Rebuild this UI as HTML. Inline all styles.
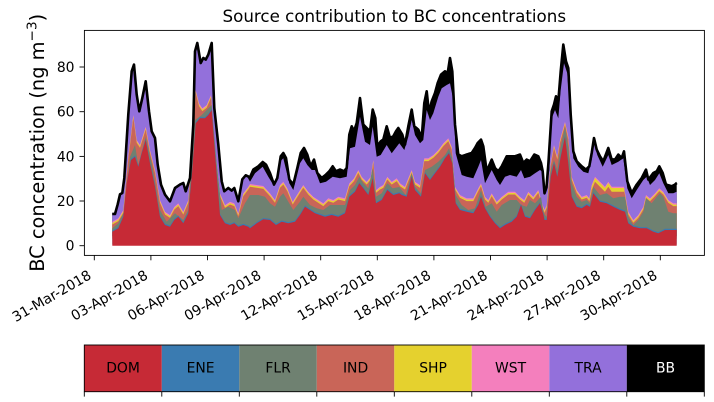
<!DOCTYPE html>
<html><head><meta charset="utf-8"><style>
html,body{margin:0;padding:0;background:#fff;}
svg{display:block;font-family:"DejaVu Sans","Liberation Sans",sans-serif;}
</style></head><body>
<svg width="714" height="402" viewBox="0 0 714 402" xmlns="http://www.w3.org/2000/svg">
<rect x="0" y="0" width="714" height="402" fill="#fff"/>
<text x="394.3" y="22" font-size="16.7" text-anchor="middle" fill="#000">Source contribution to BC concentrations</text>

<!-- BB -->
<polygon fill="#000" points="112.3,236 112.3,212.7 115,212.7 117.7,203 120,193 122.3,191.7 124.3,176.7 128.3,113 131.7,70 134,63.3 136.7,93.3 139.3,110 142.3,96.7 145.7,80 149,110 151.7,130 155,136.7 157.7,163.3 161,183.3 165,193.3 170,200 175,186.7 180,183.3 183.3,181.7 185.7,190 190,176.7 193.3,123.3 195,50 197.3,41.7 200.7,61.7 203.3,56.7 205.7,58.3 208.3,53.3 211.7,41.7 214.3,106.7 218.3,143.3 221.7,180 224.3,190 228.3,186.7 231.7,189.3 234.3,186.7 238.3,200 242.3,178 245.7,174 250,176 253.3,168.3 258.3,165 262.7,160.7 266,163.3 270,171.7 274,183.3 277.3,176.7 280.7,155 283.3,151.7 286,156.7 289.3,178.3 293.3,183.3 297.3,166.7 300.7,151.7 304,146.7 307.3,153.3 310.7,165 314,158.3 317.3,171.7 321.7,176.7 326,173.3 329.3,170 332.7,165 336,170 340,168.3 344,170 346.7,166.7 349.3,133.3 351.7,125 354,130 356.7,121.7 360,96.7 363.3,123.3 366.7,126.7 370,130 372.7,108.3 375.3,116.7 377.3,145 380.7,140 383.3,138.3 386.7,125 390,136.7 393.3,135 396,130 398.3,126.7 402.3,133.3 405,143.3 408.3,125 411.7,108.3 414.3,125 418.3,128.3 421.7,136.7 424.3,101.7 426.7,90 429,111.7 431.7,100 435,91.7 437.7,81.7 441,73.3 445,70 447.7,71.7 450,56.7 452.3,70 455,123.3 458.3,153.3 461.7,155 466.7,153.3 471.7,151.7 475,146.7 477.7,141.7 481,138.3 483.3,145 486.7,170 491.7,158.3 495,166.7 498.3,170 501.7,165 506.7,155 510,155 515,155 520,153.3 523.3,161.7 526.7,158.3 530,160 534.3,153.3 538.3,155 541,161.7 542.7,170 544.5,192 546.5,186 548.3,163.3 551.7,110 554,103.3 556,95 558.3,100 560.7,70 563.3,43.3 566,60 568.3,66.7 570.7,113.3 573.3,150 576.7,160 581.7,165 586,168.3 589.3,165 591.7,151.7 594,136.7 596.7,148.3 600,155 603.3,160 608.3,146.7 611.7,158.3 615,158.3 618.3,153.3 621.7,156.7 624,150 627.3,180 631.7,191.7 636.7,183.3 641.7,176.7 646,168.3 648.3,178.3 653.3,171.7 656.7,170 659.3,165 662.7,171.7 666,183.3 671.7,185 675,183.3 676.7,181.7 676.7,236"/>

<!-- TRA -->
<polygon fill="#9370db" points="112.3,236 112.3,212.7 115,212.7 117.7,203 120,193 122.3,191.7 124.3,176.7 128.3,113 131.7,70 134,63.3 136.7,93.3 139.3,110 142.3,96.7 145.7,80 149,110 151.7,130 155,136.7 157.7,163.3 161,183.3 165,193.3 170,200 175,186.7 180,183.3 183.3,181.7 185.7,190 190,176.7 193.3,123.3 195,50 197.3,41.7 200.7,61.7 203.3,56.7 205.7,58.3 208.3,53.3 211.7,41.7 214.3,106.7 218.3,143.3 221.7,180 224.3,190 228.3,186.7 231.7,189.3 234.3,186.7 238.3,200 242.3,178 245.7,174 250,181.7 255,173.3 262.7,166.7 268.3,176.7 274,186 280,161.7 283.3,158.3 289.3,183.3 293.3,190 300,163.3 303.3,158.3 307.3,165 311.7,170 315,170 320,183.3 326,181.7 332.7,176.7 340,178.3 346.7,176.7 350,148.3 355,146.7 360,116.7 365,141.7 370,145 372.7,126.7 376.7,156.7 380.7,155 386.7,145 391.7,153.3 399.3,143.3 404.3,150 408.3,136.7 411.7,120 415,135 420,143.3 423.3,140 426.7,110 430,120 433.3,113.3 438.3,96.7 441.7,88.3 446.7,85 450,83.3 453.3,100 455.7,153.3 461.7,175 466.7,176.7 473.3,178.3 478.3,166.7 481,160 485,183.3 491.7,170 496.7,180 500,185 505,176.7 510,175 516.7,176.7 521,170 524.3,178.3 530,176.7 535,173.3 540,170 542.7,172 544.7,195 546.5,190 549.3,170 551.7,118.3 555,110 558.3,118.3 560.7,90 564,63.3 567.3,73.3 570.7,123.3 573.3,158.3 578.3,166.7 583.3,171.7 588.3,173.3 591.7,160 594,143.3 597.3,155 602.7,166.7 608.3,155 611.7,165 618.3,161.7 623.3,158.3 627.3,188.3 631.7,198.3 636.7,190 643.3,180 646.7,176.7 650,185 655,180 659.3,173.3 663.3,183.3 668.3,193.3 673.3,193.3 676.7,191.7 676.7,236"/>

<!-- WST -->
<polygon fill="#f47fbd" points="112.3,236 112.3,221.7 118.3,218.3 123.3,210 128.3,156.7 133.3,115 136.7,140 140,145 145.7,126.7 150,150 155,170 160,200 165,211.7 170,215 174.3,206.7 178.3,203.3 183.3,211.7 188.3,200 192.3,150 195.7,90 199,103.3 202.3,108.3 206.7,105 211,95 215,146.7 220,193.3 225,205 230,201.7 234.3,203.3 238.3,213.3 243.3,193.3 248.3,186.7 250,184 256.7,185 263.3,186 270,193.3 275,200 280,185 283.3,181.7 287.3,188.3 292.7,201.7 300,190 303.3,185 308.3,191.7 313.3,196.7 318.3,200 323.3,203.3 328.3,198.3 333.3,200 338.3,196.7 345,198.3 349.3,183.3 354,178.3 358.3,170 361.7,176.7 366.7,181.7 370.7,176.7 373.3,160 376,190 380,186.7 383.3,185 387.3,176.7 391.7,181.7 396.7,178.3 400,183.3 405,186.7 408.3,178.3 411.7,170 415,181.7 420,185 424.3,158.3 428.3,158.3 433.3,155 438.3,150 443.3,143.3 448.3,138.3 451.7,146.7 455,186.7 460,195 466.7,198.3 473.3,198.3 478.3,188.3 481,183.3 485,196.7 488.3,200 491.7,193.3 496.7,201.7 501.7,196.7 508.3,191.7 515,191.7 520,196.7 524.3,200 528.3,191.7 533.3,196.7 538.3,190 542.7,205 544.5,210 546.7,205 550.7,163.3 554,145 557.3,156.7 560,140 565,121.7 568.3,136.7 571.7,176.7 576.7,190 581.7,196.7 586.7,195 589.3,198.3 591.7,185 595,176.7 600,181.7 605,186.7 608.3,181.7 611.7,186.7 616.7,186.7 621.7,186.7 624,186.7 628.3,211.7 633.3,220 638.3,215 643.3,206.7 646,195 650,198.3 655,193.3 659.3,188.3 663.3,191.7 668.3,200 673.3,203.3 676.7,203.3 676.7,236"/>
<!-- SHP -->
<g transform="translate(0,1.3)"><polygon fill="#e5d12e" points="112.3,236 112.3,221.7 118.3,218.3 123.3,210 128.3,156.7 133.3,115 136.7,140 140,145 145.7,126.7 150,150 155,170 160,200 165,211.7 170,215 174.3,206.7 178.3,203.3 183.3,211.7 188.3,200 192.3,150 195.7,90 199,103.3 202.3,108.3 206.7,105 211,95 215,146.7 220,193.3 225,205 230,201.7 234.3,203.3 238.3,213.3 243.3,193.3 248.3,186.7 250,184 256.7,185 263.3,186 270,193.3 275,200 280,185 283.3,181.7 287.3,188.3 292.7,201.7 300,190 303.3,185 308.3,191.7 313.3,196.7 318.3,200 323.3,203.3 328.3,198.3 333.3,200 338.3,196.7 345,198.3 349.3,183.3 354,178.3 358.3,170 361.7,176.7 366.7,181.7 370.7,176.7 373.3,160 376,190 380,186.7 383.3,185 387.3,176.7 391.7,181.7 396.7,178.3 400,183.3 405,186.7 408.3,178.3 411.7,170 415,181.7 420,185 424.3,158.3 428.3,158.3 433.3,155 438.3,150 443.3,143.3 448.3,138.3 451.7,146.7 455,186.7 460,195 466.7,198.3 473.3,198.3 478.3,188.3 481,183.3 485,196.7 488.3,200 491.7,193.3 496.7,201.7 501.7,196.7 508.3,191.7 515,191.7 520,196.7 524.3,200 528.3,191.7 533.3,196.7 538.3,190 542.7,205 544.5,210 546.7,205 550.7,163.3 554,145 557.3,156.7 560,140 565,121.7 568.3,136.7 571.7,176.7 576.7,190 581.7,196.7 586.7,195 589.3,198.3 591.7,185 595,176.7 600,181.7 605,186.7 608.3,181.7 611.7,186.7 616.7,186.7 621.7,186.7 624,186.7 628.3,211.7 633.3,220 638.3,215 643.3,206.7 646,195 650,198.3 655,193.3 659.3,188.3 663.3,191.7 668.3,200 673.3,203.3 676.7,203.3 676.7,236"/></g>
<!-- IND -->
<g transform="translate(0,2.8)"><polygon fill="#c96558" points="112.3,236 112.3,221.7 118.3,218.3 123.3,210 128.3,156.7 133.3,115 136.7,140 140,145 145.7,126.7 150,150 155,170 160,200 165,211.7 170,215 174.3,206.7 178.3,203.3 183.3,211.7 188.3,200 192.3,150 195.7,90 199,103.3 202.3,108.3 206.7,105 211,95 215,146.7 220,193.3 225,205 230,201.7 234.3,203.3 238.3,213.3 243.3,193.3 248.3,186.7 250,184 256.7,185 263.3,186 270,193.3 275,200 280,185 283.3,181.7 287.3,188.3 292.7,201.7 300,190 303.3,185 308.3,191.7 313.3,196.7 318.3,200 323.3,203.3 328.3,198.3 333.3,200 338.3,196.7 345,198.3 349.3,183.3 354,178.3 358.3,170 361.7,176.7 366.7,181.7 370.7,176.7 373.3,160 376,190 380,186.7 383.3,185 387.3,176.7 391.7,181.7 396.7,178.3 400,183.3 405,186.7 408.3,178.3 411.7,170 415,181.7 420,185 424.3,158.3 428.3,158.3 433.3,155 438.3,150 443.3,143.3 448.3,138.3 451.7,146.7 455,186.7 460,195 466.7,198.3 473.3,198.3 478.3,188.3 481,183.3 485,196.7 488.3,200 491.7,193.3 496.7,201.7 501.7,196.7 508.3,191.7 515,191.7 520,196.7 524.3,200 528.3,191.7 533.3,196.7 538.3,190 542.7,205 544.5,210 546.7,205 550.7,163.3 554,145 557.3,156.7 560,140 565,121.7 568.3,136.7 571.7,176.7 576.7,190 581.7,196.7 586.7,195 589.3,198.3 591.7,185 595,176.7 600,181.7 605,186.7 608.3,181.7 611.7,186.7 616.7,186.7 621.7,186.7 624,186.7 628.3,211.7 633.3,220 638.3,215 643.3,206.7 646,195 650,198.3 655,193.3 659.3,188.3 663.3,191.7 668.3,200 673.3,203.3 676.7,203.3 676.7,236"/></g>
<!-- thicker SHP segment -->
<polygon fill="#e5d12e" points="589.3,200.8 591.7,187.5 595,179.2 600,184.2 605,189.2 608.3,184.2 611.7,189.2 616.7,189.2 621.7,189.2 624,189.2 624,191.7 621.7,191.7 616.7,191.7 611.7,191.7 608.3,186.7 605,191.7 600,186.7 595,181.7 591.7,190 589.3,202"/>

<!-- FLR -->
<polygon fill="#6f8171" points="112.3,236 112.3,228.3 118.3,223.3 125,210 130,156.7 135,145 138.3,165 145.7,136.7 151.7,163.3 160,210 166.7,221.7 175,213.3 183.3,220 188.3,210 195,120 201.7,115 211.7,105 216.7,163.3 221.7,210 228.3,206.7 235,210 238.3,218.3 245,203.3 248.3,198 250,195 258.3,195 265,196.7 270,203.3 275,206.7 280,196.7 283.3,193.3 287.3,200 293.3,210 300,201.7 303.3,196.7 310,205 316.7,208.3 323.3,210 330,205 336.7,205 345,205 350,190 355,185 359.3,176.7 363.3,183.3 368.3,188.3 372.7,168.3 376,196.7 381.7,193.3 387.3,183.3 392.7,188.3 399.3,187 405.7,195 411.7,173.3 415,186.7 421,193.3 425,170 431.7,166.7 438.3,161.7 445,155 449,148.3 452.3,158.3 455.7,195 461.7,205 468.3,210 475,208.3 481,190 485.7,206.7 491.7,203.3 496.7,211.7 501.7,205 510,200 516.7,200 521,205 526.7,206.7 530,200 535,203.3 541,196.7 543.5,212 545,215 546.7,216.7 550.7,170 554,160 557.3,170 560,150 565,126.7 568.3,146.7 571.7,183.3 576.7,196.7 581.7,201.7 586.7,200 590,203.3 593.3,186.7 600,195 606.7,193.3 613.3,198.3 620,196.7 625,196.7 628.3,216.7 633.3,225 638.3,220 643.3,211.7 646,198.3 651.7,203.3 656.7,196.7 660,193.3 663.3,196.7 668.3,211.7 673.3,213.3 676.7,213.3 676.7,236"/>

<!-- ENE (thin) -->
<g transform="translate(0,-1.2)"><polygon fill="#3a7bb1" points="112.3,245.7 112.3,231.7 118.3,228.3 123.3,216.7 126.7,183.3 131,160 135,156.7 138.3,166.7 141.7,153.3 145.7,140 150,163.3 155,186.7 160,216.7 165,225 170,226.7 174.3,220 178.3,216.7 183.3,223.3 188.3,213.3 192.3,170 195.7,123.3 200,118.3 205,118.3 208.3,115 211.7,110 215,153.3 220,215 225,223.3 230,225 234.3,223.3 238.3,226.7 243.3,225 248.3,226.7 250,228.3 256.7,223.3 263.3,219.3 270,220 276,225 281.7,221.7 288.3,223.3 295,221.7 300,215 305,206.7 310,210 315,213.3 320,215 325,216.7 331.7,215 338.3,216.7 345,213.3 349.3,196.7 355,191.7 359.3,183.3 363.3,188.3 368.3,195 372.7,178.3 376,203.3 381.7,200 387.3,190 393.3,195 399.3,193.3 401.7,195 406.7,196.7 411.7,176.7 415,190 421,196.7 425,173.3 430,180 435,173.3 440,166.7 445,158.3 449,153.3 452.3,163.3 455.7,203.3 460,210 466.7,211.7 473.3,213.3 478.3,205 481,196.7 485,208.3 490,216.7 495,223.3 500,228.3 505,225 511.7,221.7 516.7,216.7 521,205 525,216.7 530,218.3 535,210 540,203.3 543.5,215 544.5,220 546.7,220 550.7,176.7 554,163.3 557.3,176.7 560.7,156.7 565,136.7 568.3,163.3 571.7,196.7 576.7,206.7 581.7,208.3 586.7,205 590,206.7 593.3,193.3 600,201.7 606.7,203.3 613.3,206.7 620,210 625,211.7 628.3,223.3 633.3,226.7 640,228.3 646.7,228.3 653.3,231.7 658.3,233.3 665,230 671.7,230 676.7,230 676.7,245.7"/></g>

<!-- DOM -->
<polygon fill="#c62a36" points="112.3,245.7 112.3,231.7 118.3,228.3 123.3,216.7 126.7,183.3 131,160 135,156.7 138.3,166.7 141.7,153.3 145.7,140 150,163.3 155,186.7 160,216.7 165,225 170,226.7 174.3,220 178.3,216.7 183.3,223.3 188.3,213.3 192.3,170 195.7,123.3 200,118.3 205,118.3 208.3,115 211.7,110 215,153.3 220,215 225,223.3 230,225 234.3,223.3 238.3,226.7 243.3,225 248.3,226.7 250,228.3 256.7,223.3 263.3,219.3 270,220 276,225 281.7,221.7 288.3,223.3 295,221.7 300,215 305,206.7 310,210 315,213.3 320,215 325,216.7 331.7,215 338.3,216.7 345,213.3 349.3,196.7 355,191.7 359.3,183.3 363.3,188.3 368.3,195 372.7,178.3 376,203.3 381.7,200 387.3,190 393.3,195 399.3,193.3 401.7,195 406.7,196.7 411.7,176.7 415,190 421,196.7 425,173.3 430,180 435,173.3 440,166.7 445,158.3 449,153.3 452.3,163.3 455.7,203.3 460,210 466.7,211.7 473.3,213.3 478.3,205 481,196.7 485,208.3 490,216.7 495,223.3 500,228.3 505,225 511.7,221.7 516.7,216.7 521,205 525,216.7 530,218.3 535,210 540,203.3 543.5,215 544.5,220 546.7,220 550.7,176.7 554,163.3 557.3,176.7 560.7,156.7 565,136.7 568.3,163.3 571.7,196.7 576.7,206.7 581.7,208.3 586.7,205 590,206.7 593.3,193.3 600,201.7 606.7,203.3 613.3,206.7 620,210 625,211.7 628.3,223.3 633.3,226.7 640,228.3 646.7,228.3 653.3,231.7 658.3,233.3 665,230 671.7,230 676.7,230 676.7,245.7"/>

<!-- total line -->
<g transform="translate(0,1.3)"><polyline fill="none" stroke="#000" stroke-width="2.6" stroke-linejoin="round" points="112.3,212.7 115,212.7 117.7,203 120,193 122.3,191.7 124.3,176.7 128.3,113 131.7,70 134,63.3 136.7,93.3 139.3,110 142.3,96.7 145.7,80 149,110 151.7,130 155,136.7 157.7,163.3 161,183.3 165,193.3 170,200 175,186.7 180,183.3 183.3,181.7 185.7,190 190,176.7 193.3,123.3 195,50 197.3,41.7 200.7,61.7 203.3,56.7 205.7,58.3 208.3,53.3 211.7,41.7 214.3,106.7 218.3,143.3 221.7,180 224.3,190 228.3,186.7 231.7,189.3 234.3,186.7 238.3,200 242.3,178 245.7,174 250,176 253.3,168.3 258.3,165 262.7,160.7 266,163.3 270,171.7 274,183.3 277.3,176.7 280.7,155 283.3,151.7 286,156.7 289.3,178.3 293.3,183.3 297.3,166.7 300.7,151.7 304,146.7 307.3,153.3 310.7,165 314,158.3 317.3,171.7 321.7,176.7 326,173.3 329.3,170 332.7,165 336,170 340,168.3 344,170 346.7,166.7 349.3,133.3 351.7,125 354,130 356.7,121.7 360,96.7 363.3,123.3 366.7,126.7 370,130 372.7,108.3 375.3,116.7 377.3,145 380.7,140 383.3,138.3 386.7,125 390,136.7 393.3,135 396,130 398.3,126.7 402.3,133.3 405,143.3 408.3,125 411.7,108.3 414.3,125 418.3,128.3 421.7,136.7 424.3,101.7 426.7,90 429,111.7 431.7,100 435,91.7 437.7,81.7 441,73.3 445,70 447.7,71.7 450,56.7 452.3,70 455,123.3 458.3,153.3 461.7,155 466.7,153.3 471.7,151.7 475,146.7 477.7,141.7 481,138.3 483.3,145 486.7,170 491.7,158.3 495,166.7 498.3,170 501.7,165 506.7,155 510,155 515,155 520,153.3 523.3,161.7 526.7,158.3 530,160 534.3,153.3 538.3,155 541,161.7 542.7,170 544.5,192 546.5,186 548.3,163.3 551.7,110 554,103.3 556,95 558.3,100 560.7,70 563.3,43.3 566,60 568.3,66.7 570.7,113.3 573.3,150 576.7,160 581.7,165 586,168.3 589.3,165 591.7,151.7 594,136.7 596.7,148.3 600,155 603.3,160 608.3,146.7 611.7,158.3 615,158.3 618.3,153.3 621.7,156.7 624,150 627.3,180 631.7,191.7 636.7,183.3 641.7,176.7 646,168.3 648.3,178.3 653.3,171.7 656.7,170 659.3,165 662.7,171.7 666,183.3 671.7,185 675,183.3 676.7,181.7"/></g>

<!-- axes frame -->
<rect x="84.4" y="30.4" width="620" height="225" fill="none" stroke="#000" stroke-width="0.9"/>

<!-- y ticks -->
<g stroke="#000" stroke-width="0.9">
<line x1="79.5" y1="245.7" x2="84.4" y2="245.7"/>
<line x1="79.5" y1="201" x2="84.4" y2="201"/>
<line x1="79.5" y1="156.4" x2="84.4" y2="156.4"/>
<line x1="79.5" y1="111.7" x2="84.4" y2="111.7"/>
<line x1="79.5" y1="67" x2="84.4" y2="67"/>
</g>
<g font-size="13.9" text-anchor="end" fill="#000">
<text x="74.5" y="250.7">0</text>
<text x="74.5" y="206">20</text>
<text x="74.5" y="161.4">40</text>
<text x="74.5" y="116.7">60</text>
<text x="74.5" y="72">80</text>
</g>

<!-- x ticks -->
<g stroke="#000" stroke-width="0.9">
<line x1="94.3" y1="255.4" x2="94.3" y2="260.3"/>
<line x1="150.9" y1="255.4" x2="150.9" y2="260.3"/>
<line x1="207.5" y1="255.4" x2="207.5" y2="260.3"/>
<line x1="264.1" y1="255.4" x2="264.1" y2="260.3"/>
<line x1="320.7" y1="255.4" x2="320.7" y2="260.3"/>
<line x1="377.3" y1="255.4" x2="377.3" y2="260.3"/>
<line x1="433.9" y1="255.4" x2="433.9" y2="260.3"/>
<line x1="490.5" y1="255.4" x2="490.5" y2="260.3"/>
<line x1="547.1" y1="255.4" x2="547.1" y2="260.3"/>
<line x1="603.7" y1="255.4" x2="603.7" y2="260.3"/>
<line x1="660.3" y1="255.4" x2="660.3" y2="260.3"/>
</g>
<g font-size="13.9" text-anchor="end" fill="#000">
<text transform="translate(92.3,278) rotate(-30)">31-Mar-2018</text>
<text transform="translate(148.9,278) rotate(-30)">03-Apr-2018</text>
<text transform="translate(205.5,278) rotate(-30)">06-Apr-2018</text>
<text transform="translate(262.1,278) rotate(-30)">09-Apr-2018</text>
<text transform="translate(318.7,278) rotate(-30)">12-Apr-2018</text>
<text transform="translate(375.3,278) rotate(-30)">15-Apr-2018</text>
<text transform="translate(431.9,278) rotate(-30)">18-Apr-2018</text>
<text transform="translate(488.5,278) rotate(-30)">21-Apr-2018</text>
<text transform="translate(545.1,278) rotate(-30)">24-Apr-2018</text>
<text transform="translate(601.7,278) rotate(-30)">27-Apr-2018</text>
<text transform="translate(658.3,278) rotate(-30)">30-Apr-2018</text>
</g>

<!-- y label -->
<text transform="translate(44.2,142.8) rotate(-90)" font-size="19.4" text-anchor="middle" fill="#000">BC concentration (ng m<tspan font-size="13.6" dy="-7.5">−3</tspan><tspan dy="7.5">)</tspan></text>

<!-- legend colorbar -->
<rect x="84.3" y="345" width="77.5" height="46.7" fill="#c62a36"/>
<rect x="161.8" y="345" width="77.5" height="46.7" fill="#3a7bb1"/>
<rect x="239.3" y="345" width="77.5" height="46.7" fill="#6f8171"/>
<rect x="316.8" y="345" width="77.5" height="46.7" fill="#c96558"/>
<rect x="394.3" y="345" width="77.5" height="46.7" fill="#e5d12e"/>
<rect x="471.8" y="345" width="77.5" height="46.7" fill="#f47fbd"/>
<rect x="549.3" y="345" width="77.5" height="46.7" fill="#9370db"/>
<rect x="626.8" y="345" width="77.5" height="46.7" fill="#000"/>
<rect x="84.3" y="345" width="620" height="46.7" fill="none" stroke="#000" stroke-width="0.9"/>
<g font-size="13.9" text-anchor="middle" fill="#000">
<text x="123.05" y="372.3">DOM</text>
<text x="200.55" y="372.3">ENE</text>
<text x="278.05" y="372.3">FLR</text>
<text x="355.55" y="372.3">IND</text>
<text x="433.05" y="372.3">SHP</text>
<text x="510.55" y="372.3">WST</text>
<text x="588.05" y="372.3">TRA</text>
<text x="665.55" y="372.3" fill="#fff">BB</text>
</g>
<g stroke="#000" stroke-width="0.9">
<line x1="84.3" y1="391.7" x2="84.3" y2="396.6"/>
<line x1="161.8" y1="391.7" x2="161.8" y2="396.6"/>
<line x1="239.3" y1="391.7" x2="239.3" y2="396.6"/>
<line x1="316.8" y1="391.7" x2="316.8" y2="396.6"/>
<line x1="394.3" y1="391.7" x2="394.3" y2="396.6"/>
<line x1="471.8" y1="391.7" x2="471.8" y2="396.6"/>
<line x1="549.3" y1="391.7" x2="549.3" y2="396.6"/>
<line x1="626.8" y1="391.7" x2="626.8" y2="396.6"/>
<line x1="704.3" y1="391.7" x2="704.3" y2="396.6"/>
</g>
</svg>
</body></html>
